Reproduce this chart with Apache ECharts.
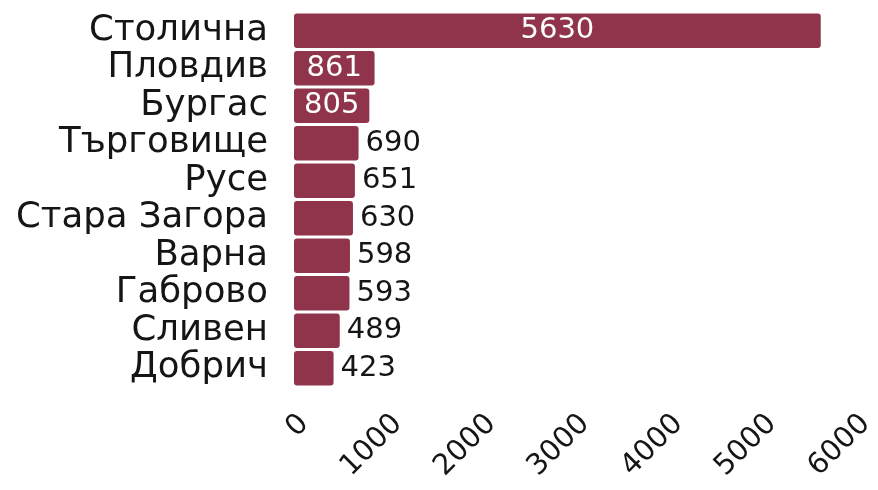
<!DOCTYPE html>
<html>
<head>
<meta charset="utf-8">
<script src="https://cdn.jsdelivr.net/npm/echarts@6/dist/echarts.min.js"></script>
<style>
  html, body { margin: 0; padding: 0; background: #ffffff; }
  #chart { width: 878px; height: 490px; }
</style>
</head>
<body>
<div id="chart"></div>
<script>
// Regions, ordered from largest to smallest count
const categories = ['Столична', 'Пловдив', 'Бургас', 'Търговище', 'Русе',
                    'Стара Загора', 'Варна', 'Габрово', 'Сливен', 'Добрич'];
const values = [5630, 861, 805, 690, 651, 630, 598, 593, 489, 423];
const xTicks = [0, 1000, 2000, 3000, 4000, 5000, 6000];

const FONT = '"DejaVu Sans", sans-serif';
const BAR_COLOR = '#8f344a';
const TEXT_COLOR = '#151515';

// Long bars carry their number inside in white; short ones get it just past the end
const barData = values.map(v => {
  const inside = v > 750;
  return {
    value: v,
    label: inside
      ? { position: 'inside', color: '#ffffff' }
      : { position: 'right', color: TEXT_COLOR, distance: 7 }
  };
});

const chart = echarts.init(document.getElementById('chart'), null, { renderer: 'canvas' });
chart.setOption({
  animation: false,
  backgroundColor: '#ffffff',
  grid: { left: 294, right: 18, top: 12, bottom: 103, containLabel: false },
  xAxis: {
    type: 'value',
    min: xTicks[0],
    max: xTicks[xTicks.length - 1],
    interval: xTicks[1] - xTicks[0],
    axisLine: { show: false },
    axisTick: { show: false },
    splitLine: { show: false },
    axisLabel: {
      rotate: 45,
      margin: 22,
      align: 'right',
      verticalAlign: 'top',
      fontFamily: FONT,
      fontSize: 29,
      color: TEXT_COLOR,
      formatter: v => String(v)
    }
  },
  yAxis: {
    type: 'category',
    data: categories,
    inverse: true,
    axisLine: { show: false },
    axisTick: { show: false },
    splitLine: { show: false },
    axisLabel: {
      interval: 0,
      margin: 26,
      fontFamily: FONT,
      fontSize: 35.5,
      color: TEXT_COLOR
    }
  },
  series: [{
    type: 'bar',
    data: barData,
    barCategoryGap: '8%',
    itemStyle: { color: BAR_COLOR, borderRadius: 3 },
    label: {
      show: true,
      fontFamily: FONT,
      fontSize: 29
    }
  }]
});
</script>
</body>
</html>
